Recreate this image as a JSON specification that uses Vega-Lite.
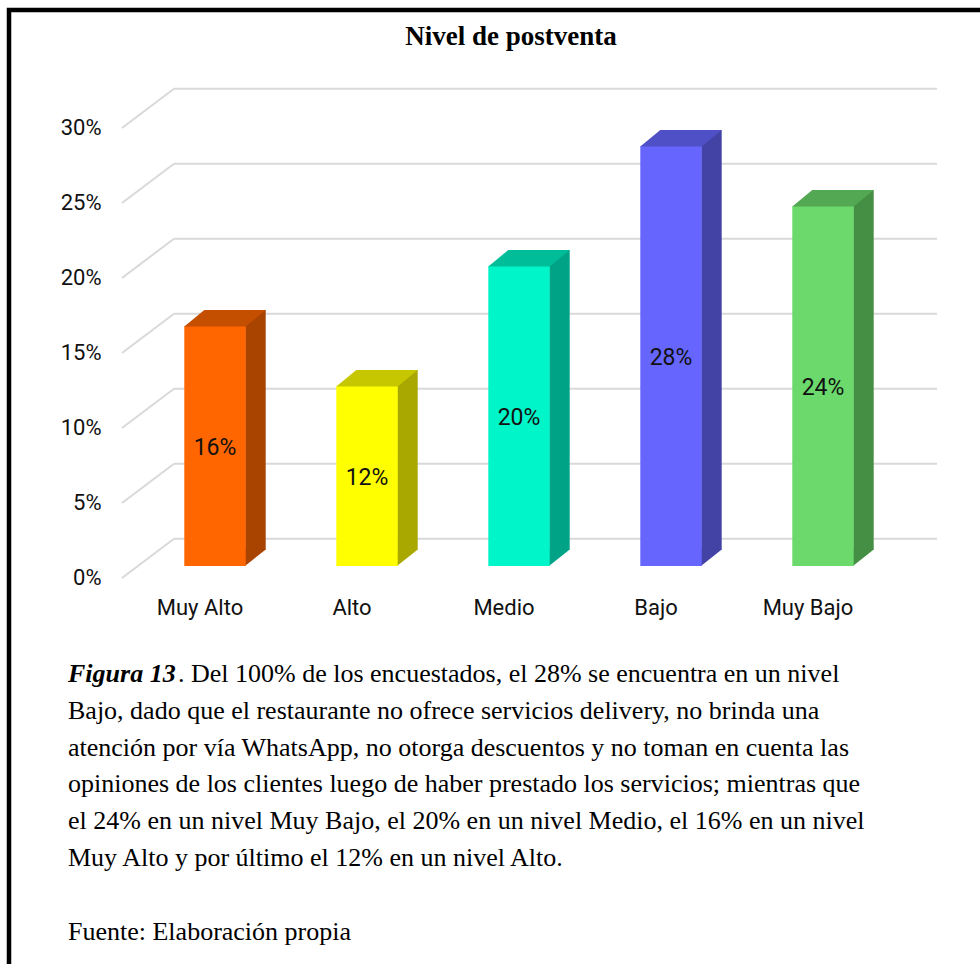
{
  "$schema": "https://vega.github.io/schema/vega-lite/v6.json",
  "width": 980,
  "height": 964,
  "autosize": {"type": "none"},
  "padding": 0,
  "background": "white",
  "config": {"view": {"stroke": null}},
  "title": {
    "text": "Nivel de postventa",
    "font": "Liberation Serif",
    "fontSize": 27,
    "fontWeight": "bold",
    "color": "black",
    "anchor": "middle",
    "frame": "group",
    "offset": -44,
    "dx": 21,
    "dy": 28,
    "baseline": "alphabetic"
  },
  "datasets": {
    "niveles": [
      {"nivel": "Muy Alto", "porcentaje": 0.16},
      {"nivel": "Alto", "porcentaje": 0.12},
      {"nivel": "Medio", "porcentaje": 0.20},
      {"nivel": "Bajo", "porcentaje": 0.28},
      {"nivel": "Muy Bajo", "porcentaje": 0.24}
    ],
    "marcas": [
      {"t": 0}, {"t": 0.05}, {"t": 0.10}, {"t": 0.15}, {"t": 0.20}, {"t": 0.25}, {"t": 0.30}
    ],
    "nota": [
      {"linea": 1, "parte": "rotulo", "texto": "Figura 13"},
      {"linea": 1, "parte": "inicio", "texto": ". Del 100% de los encuestados, el 28% se encuentra en un nivel"},
      {"linea": 2, "parte": "cuerpo", "texto": "Bajo, dado que el restaurante no ofrece servicios delivery, no brinda una"},
      {"linea": 3, "parte": "cuerpo", "texto": "atención por vía WhatsApp, no otorga descuentos y no toman en cuenta las"},
      {"linea": 4, "parte": "cuerpo", "texto": "opiniones de los clientes luego de haber prestado los servicios; mientras que"},
      {"linea": 5, "parte": "cuerpo", "texto": "el 24% en un nivel Muy Bajo, el 20% en un nivel Medio, el 16% en un nivel"},
      {"linea": 6, "parte": "cuerpo", "texto": "Muy Alto y por último el 12% en un nivel Alto."},
      {"linea": 8, "parte": "fuente", "texto": "Fuente: Elaboración propia"}
    ]
  },
  "layer": [
    {
      "layer": [
        {
          "data": {"name": "marcas"},
          "mark": {"type": "rule", "color": "#D9D9D9", "strokeWidth": 2, "yOffset": 12, "y2Offset": -27.3},
          "encoding": {
            "x": {"datum": 0.388158, "type": "quantitative", "scale": {"domain": [-0.414474, 6.032895], "nice": false, "zero": false}, "axis": null},
            "x2": {"datum": 0.730263},
            "y": {"field": "t", "type": "quantitative", "scale": {"domain": [-0.265333, 0.377333], "nice": false, "zero": false},
                  "axis": {"values": [0, 0.05, 0.1, 0.15, 0.2, 0.25, 0.3], "format": ".0%", "title": null, "grid": false, "domain": false, "ticks": false, "tickSize": 0, "labelPadding": 0, "offset": -101, "labelOffset": 11.5, "labelFont": "Roboto", "labelFontSize": 22, "labelColor": "#111111"}},
            "y2": {"field": "t"}
          }
        },
        {
          "data": {"name": "marcas"},
          "mark": {"type": "rule", "color": "#D9D9D9", "strokeWidth": 2, "yOffset": -27.3},
          "encoding": {
            "x": {"datum": 0.730263, "type": "quantitative"},
            "x2": {"datum": 5.75},
            "y": {"field": "t", "type": "quantitative"}
          }
        },
        {
          "data": {"name": "niveles"},
          "transform": [{"window": [{"op": "row_number", "as": "orden"}]}],
          "mark": {"type": "bar", "xOffset": 30.2, "x2Offset": 50.7, "yOffset": -16, "y2Offset": -16},
          "encoding": {
            "x": {"field": "orden", "type": "quantitative"},
            "x2": {"field": "orden"},
            "y": {"field": "porcentaje", "type": "quantitative"},
            "y2": {"datum": 0},
            "color": {"field": "nivel", "type": "nominal", "legend": null,
                      "scale": {"domain": ["Muy Alto", "Alto", "Medio", "Bajo", "Muy Bajo"], "range": ["#A84300", "#A8A800", "#00A385", "#4343A6", "#458F45"]}}
          }
        },
        {
          "data": {"name": "niveles"},
          "transform": [{"window": [{"op": "row_number", "as": "orden"}]}],
          "mark": {"type": "point", "filled": true, "opacity": 1, "strokeWidth": 0, "size": 10000, "shape": "M0.6,-0.33L0.6,0L1.014,-0.33Z"},
          "encoding": {
            "x": {"field": "orden", "type": "quantitative"},
            "y": {"datum": 0, "type": "quantitative"},
            "color": {"field": "nivel", "type": "nominal", "legend": null,
                      "scale": {"domain": ["Muy Alto", "Alto", "Medio", "Bajo", "Muy Bajo"], "range": ["#A84300", "#A8A800", "#00A385", "#4343A6", "#458F45"]}}
          }
        },
        {
          "data": {"name": "niveles"},
          "transform": [{"window": [{"op": "row_number", "as": "orden"}]}],
          "mark": {"type": "bar", "xOffset": -30.7, "x2Offset": 30.7},
          "encoding": {
            "x": {"field": "orden", "type": "quantitative"},
            "x2": {"field": "orden"},
            "y": {"field": "porcentaje", "type": "quantitative"},
            "y2": {"datum": 0},
            "color": {"field": "nivel", "type": "nominal", "legend": null,
                      "scale": {"domain": ["Muy Alto", "Alto", "Medio", "Bajo", "Muy Bajo"], "range": ["#FF6600", "#FFFF00", "#00F5C8", "#6666FF", "#6BD96B"]}}
          }
        },
        {
          "data": {"name": "niveles"},
          "transform": [{"window": [{"op": "row_number", "as": "orden"}]}],
          "mark": {"type": "point", "filled": true, "opacity": 1, "strokeWidth": 0, "size": 10000, "shape": "M-0.614,0.01L0.614,0.01L1.014,-0.32L-0.214,-0.32Z"},
          "encoding": {
            "x": {"field": "orden", "type": "quantitative"},
            "y": {"field": "porcentaje", "type": "quantitative"},
            "color": {"field": "nivel", "type": "nominal", "legend": null,
                      "scale": {"domain": ["Muy Alto", "Alto", "Medio", "Bajo", "Muy Bajo"], "range": ["#C44F00", "#C7C700", "#00BD9A", "#4F4FC6", "#53A853"]}}
          }
        },
        {
          "data": {"name": "niveles"},
          "transform": [{"window": [{"op": "row_number", "as": "orden"}]}],
          "mark": {"type": "text", "xOffset": -15, "yOffset": 42, "font": "Roboto", "fontSize": 22, "color": "#111111", "baseline": "middle", "align": "center"},
          "encoding": {
            "x": {"field": "orden", "type": "quantitative"},
            "y": {"datum": 0, "type": "quantitative"},
            "text": {"field": "nivel", "type": "nominal"}
          }
        },
        {
          "data": {"values": [{}]},
          "mark": {"type": "rect", "filled": false, "stroke": "black", "strokeWidth": 4.5},
          "encoding": {
            "x": {"datum": -0.355263, "type": "quantitative"},
            "x2": {"datum": 6.3},
            "y": {"datum": 0.370667, "type": "quantitative"},
            "y2": {"datum": -0.35}
          }
        }
      ],
      "resolve": {"scale": {"color": "independent"}}
    },
    {
      "data": {"name": "niveles"},
      "transform": [{"window": [{"op": "row_number", "as": "orden"}]}],
      "mark": {"type": "text", "font": "Roboto", "fontSize": 23, "color": "#111111", "baseline": "middle", "align": "center", "dy": 2},
      "encoding": {
        "x": {"field": "orden", "type": "quantitative"},
        "y": {"field": "porcentaje", "type": "quantitative", "scale": {"domain": [-0.530667, 0.754667], "nice": false, "zero": false}, "axis": null},
        "text": {"field": "porcentaje", "type": "quantitative", "format": ".0%"}
      }
    },
    {
      "data": {"name": "nota"},
      "layer": [
        {
          "transform": [{"filter": "datum.parte === 'rotulo'"}],
          "mark": {"type": "text", "font": "Liberation Serif", "fontSize": 26, "fontWeight": "bold", "fontStyle": "italic", "color": "black", "align": "left", "baseline": "alphabetic"},
          "encoding": {
            "x": {"datum": 0.032895, "type": "quantitative"},
            "y": {"field": "linea", "type": "quantitative", "scale": {"domain": [-17.5326, 8.6631], "reverse": true, "nice": false, "zero": false}, "axis": null},
            "text": {"field": "texto", "type": "nominal"}
          }
        },
        {
          "transform": [{"filter": "datum.parte === 'inicio'"}],
          "mark": {"type": "text", "font": "Liberation Serif", "fontSize": 26, "color": "black", "align": "left", "baseline": "alphabetic", "xOffset": 110},
          "encoding": {
            "x": {"datum": 0.032895, "type": "quantitative"},
            "y": {"field": "linea", "type": "quantitative"},
            "text": {"field": "texto", "type": "nominal"}
          }
        },
        {
          "transform": [{"filter": "datum.parte === 'cuerpo' || datum.parte === 'fuente'"}],
          "mark": {"type": "text", "font": "Liberation Serif", "fontSize": 26, "color": "black", "align": "left", "baseline": "alphabetic"},
          "encoding": {
            "x": {"datum": 0.032895, "type": "quantitative"},
            "y": {"field": "linea", "type": "quantitative"},
            "text": {"field": "texto", "type": "nominal"}
          }
        }
      ]
    }
  ],
  "resolve": {"scale": {"y": "independent"}}
}
